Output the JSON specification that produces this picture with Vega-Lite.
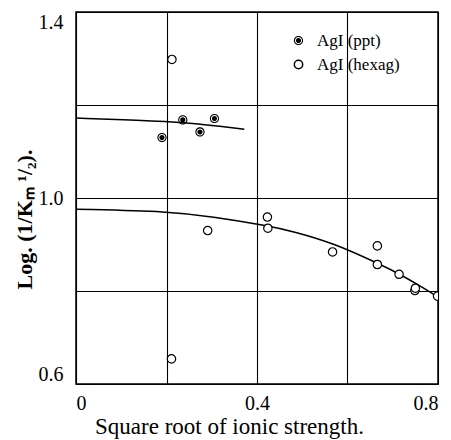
{
  "$schema": "https://vega.github.io/schema/vega-lite/v6.json",
  "autosize": "none",
  "width": 362,
  "height": 372,
  "padding": {"left": 76, "top": 12, "right": 13, "bottom": 56},
  "background": "white",
  "config": {
    "view": {"stroke": "black", "strokeWidth": 1.5},
    "font": "Liberation Serif",
    "axis": {"labelFont": "Liberation Serif", "titleFont": "Liberation Serif", "labelColor": "black", "titleColor": "black", "gridColor": "black", "gridOpacity": 1, "gridWidth": 1.1, "domain": false, "ticks": false},
    "legend": {"labelFont": "Liberation Serif", "labelFontSize": 17, "labelColor": "black", "rowPadding": 6, "symbolSize": 70, "labelOffset": 10}
  },
  "datasets": {
    "points": [
      {"series": "AgI (ppt)", "x": 0.190, "y": 1.130},
      {"series": "AgI (ppt)", "x": 0.236, "y": 1.168},
      {"series": "AgI (ppt)", "x": 0.274, "y": 1.142},
      {"series": "AgI (ppt)", "x": 0.306, "y": 1.171},
      {"series": "AgI (hexag)", "x": 0.212, "y": 1.298},
      {"series": "AgI (hexag)", "x": 0.211, "y": 0.654},
      {"series": "AgI (hexag)", "x": 0.291, "y": 0.930},
      {"series": "AgI (hexag)", "x": 0.423, "y": 0.959},
      {"series": "AgI (hexag)", "x": 0.424, "y": 0.935},
      {"series": "AgI (hexag)", "x": 0.567, "y": 0.884},
      {"series": "AgI (hexag)", "x": 0.666, "y": 0.897},
      {"series": "AgI (hexag)", "x": 0.666, "y": 0.857},
      {"series": "AgI (hexag)", "x": 0.714, "y": 0.836},
      {"series": "AgI (hexag)", "x": 0.749, "y": 0.801},
      {"series": "AgI (hexag)", "x": 0.750, "y": 0.806},
      {"series": "AgI (hexag)", "x": 0.799, "y": 0.789}
    ],
    "curves": [
      {"curve": "ppt", "x": 0.0, "y": 1.172},
      {"curve": "ppt", "x": 0.141, "y": 1.167},
      {"curve": "ppt", "x": 0.237, "y": 1.163},
      {"curve": "ppt", "x": 0.372, "y": 1.148},
      {"curve": "hexag", "x": 0.0, "y": 0.976},
      {"curve": "hexag", "x": 0.212, "y": 0.971},
      {"curve": "hexag", "x": 0.298, "y": 0.960},
      {"curve": "hexag", "x": 0.422, "y": 0.941},
      {"curve": "hexag", "x": 0.481, "y": 0.928},
      {"curve": "hexag", "x": 0.569, "y": 0.903},
      {"curve": "hexag", "x": 0.666, "y": 0.860},
      {"curve": "hexag", "x": 0.714, "y": 0.837},
      {"curve": "hexag", "x": 0.760, "y": 0.811},
      {"curve": "hexag", "x": 0.800, "y": 0.787}
    ]
  },
  "encoding": {
    "x": {
      "field": "x", "type": "quantitative",
      "scale": {"domain": [0, 0.8], "nice": false, "zero": false},
      "axis": {
        "values": [0, 0.2, 0.4, 0.6, 0.8],
        "labelExpr": "datum.value == 0 ? '0' : (abs(datum.value - 0.4) < 0.01 || abs(datum.value - 0.8) < 0.01) ? format(datum.value, '.1f') : ''",
        "labelFontSize": 20, "labelPadding": 9,
        "title": "Square root of ionic strength.", "titleFontSize": 23, "titleFontWeight": "normal",
        "titleX": 153, "titleY": 49, "titleBaseline": "alphabetic", "titleAlign": "center"
      }
    },
    "y": {
      "field": "y", "type": "quantitative",
      "scale": {"domain": [0.6, 1.4], "nice": false, "zero": false},
      "axis": {
        "values": [0.6, 0.8, 1.0, 1.2, 1.4],
        "labelExpr": "(abs(datum.value - 0.8) < 0.01 || abs(datum.value - 1.2) < 0.01) ? '' : format(datum.value, '.1f')",
        "labelFontSize": 20, "labelPadding": 13, "labelFlush": true,
        "title": "Log. (1/Kₘ ¹/₂).", "titleFontSize": 22, "titleFontWeight": "bold",
        "titleX": -45, "titleY": 207, "titleAngle": -90, "titleBaseline": "alphabetic", "titleAlign": "center"
      }
    }
  },
  "layer": [
    {
      "data": {"name": "curves"},
      "mark": {"type": "line", "color": "black", "strokeWidth": 1.5, "interpolate": "basis", "clip": true},
      "encoding": {"detail": {"field": "curve"}}
    },
    {
      "data": {"name": "points"},
      "mark": {"type": "point", "filled": false, "size": 70, "strokeWidth": 1.2, "opacity": 1, "clip": true},
      "encoding": {
        "shape": {
          "field": "series", "type": "nominal",
          "scale": {"domain": ["AgI (ppt)", "AgI (hexag)"], "range": ["M-1.1,0A1.1,1.1 0 1,1 1.1,0A1.1,1.1 0 1,1 -1.1,0ZM-0.85,0A0.85,0.85 0 1,0 0.85,0A0.85,0.85 0 1,0 -0.85,0ZM-0.62,0A0.62,0.62 0 1,1 0.62,0A0.62,0.62 0 1,1 -0.62,0Z", "circle"]},
          "legend": {"title": null, "orient": "none", "legendX": 214, "legendY": 20}
        },
        "fill": {
          "field": "series", "type": "nominal",
          "scale": {"domain": ["AgI (ppt)", "AgI (hexag)"], "range": ["black", "white"]},
          "legend": {"title": null, "orient": "none", "legendX": 214, "legendY": 20}
        },
        "stroke": {
          "field": "series", "type": "nominal",
          "scale": {"domain": ["AgI (ppt)", "AgI (hexag)"], "range": ["rgba(0,0,0,0)", "black"]},
          "legend": {"title": null, "orient": "none", "legendX": 214, "legendY": 20}
        }
      }
    }
  ]
}
